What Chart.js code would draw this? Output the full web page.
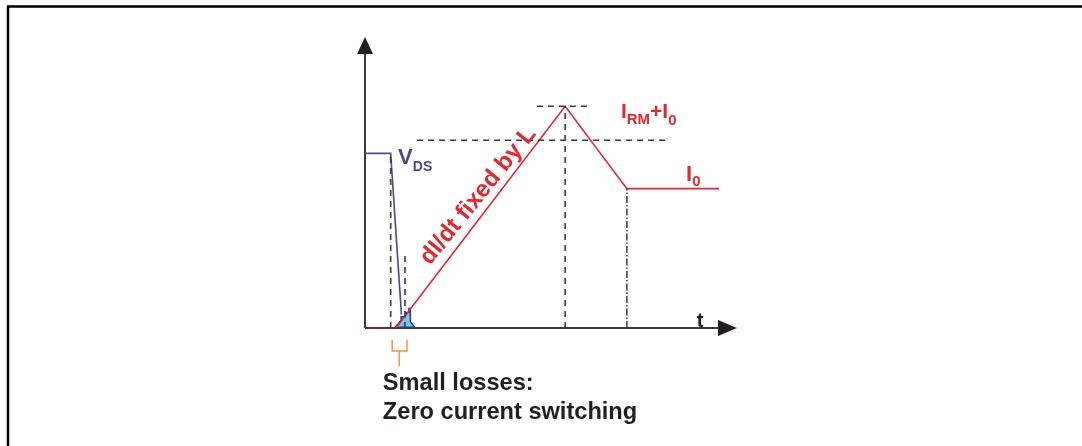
<!DOCTYPE html>
<html>
<head>
<meta charset="utf-8">
<script src="https://cdn.jsdelivr.net/npm/chart.js@4/dist/chart.umd.min.js"></script>
<style>
  html, body { margin: 0; padding: 0; background: #fff; }
  canvas { display: block; }
</style>
</head>
<body>
<canvas id="zcsChart" width="1082" height="446"></canvas>
<script>
// time axis 0..100, level axis 0..100 (arbitrary units)
const vdsTime = [0, 6.9, 9.8];
const vdsLevel = [60, 60, 4.6];

const currentTime = [8.3, 53.8, 70.4, 95.2];
const currentLevel = [0, 76.2, 47.9, 47.9];
const idleTime = [0, 8.3];
const idleLevel = [0, 0];

// small switching-loss area
const lossTime = [8.1, 9.7, 9.7, 10.75, 11.0, 11.8, 11.8, 12.2, 12.2, 13.4, 8.1];
const lossLevel = [0.3, 2.6, 3.9, 3.9, 5.3, 5.3, 6.7, 6.7, 2.1, 0.3, 0.3];

// dashed guides
const guideVTime = [6.9, 10.75, 53.8];
const guideVTop = [60, 26.2, 76.2];
const guideHLevel = [64.5, 76.2];
const guideHFrom = [14, 46.2];
const guideHTo = [81.7, 61];
const dashDotTime = 70.4;
const dashDotTop = 47.9;

// orange bracket under the axis
const bracketTime = [7.3, 7.3, 11.3, 11.3];
const bracketLevel = [-4, -7.9, -7.9, -4];
const stemTime = [9.2, 9.2];
const stemLevel = [-7.9, -13.1];

const captionLines = ["Small losses:", "Zero current switching"];

const toPoints = (xs, ys) => xs.map((x, i) => ({ x: x, y: ys[i] }));

const datasets = [];
const guideStyle = { borderColor: "#3c3c3c", borderWidth: 1.6, borderDash: [6, 5] };

guideVTime.forEach((t, i) => {
  datasets.push(Object.assign({ data: toPoints([t, t], [0, guideVTop[i]]) }, guideStyle));
});
guideHLevel.forEach((lvl, i) => {
  datasets.push(Object.assign({ data: toPoints([guideHFrom[i], guideHTo[i]], [lvl, lvl]) }, guideStyle));
});
datasets.push({
  data: toPoints([dashDotTime, dashDotTime], [0, dashDotTop]),
  borderColor: "#3c3c3c",
  borderWidth: 1.5,
  borderDash: [7, 2, 1.5, 2],
});
datasets.push({
  data: toPoints(idleTime, idleLevel),
  borderColor: "#8a2626",
  borderWidth: 1.6,
});
datasets.push({
  data: toPoints(currentTime, currentLevel),
  borderColor: "#e8262e",
  borderWidth: 1.6,
});
datasets.push({
  data: toPoints(lossTime, lossLevel),
  borderColor: "#2e3c8c",
  backgroundColor: "#74c8f0",
  borderWidth: 1.5,
  fill: "shape",
});
datasets.push({
  data: toPoints(vdsTime, vdsLevel),
  borderColor: "#4a4a8c",
  borderWidth: 1.6,
});
datasets.push({
  data: toPoints(bracketTime, bracketLevel),
  borderColor: "#f0913a",
  borderWidth: 1.4,
});
datasets.push({
  data: toPoints(stemTime, stemLevel),
  borderColor: "#f0913a",
  borderWidth: 1.4,
});

datasets.forEach((ds) => {
  ds.showLine = true;
  ds.pointRadius = 0;
  ds.clip = false;
  ds.tension = 0;
  if (!ds.fill) ds.fill = false;
});

const FONT = "'Liberation Sans', Arial, sans-serif";

function drawParts(ctx, x, y, parts) {
  // parts: [text, size, dy]
  parts.forEach((p) => {
    ctx.font = "bold " + p[1] + "px " + FONT;
    ctx.fillText(p[0], x, y + p[2]);
    x += ctx.measureText(p[0]).width;
  });
}

const axesPlugin = {
  id: "axesPlugin",
  beforeDatasetsDraw(chart) {
    const ctx = chart.ctx;
    const xs = chart.scales.x;
    const ys = chart.scales.y;
    const x0 = xs.getPixelForValue(0);
    const y0 = ys.getPixelForValue(0);
    const xEnd = xs.getPixelForValue(100);
    const yEnd = ys.getPixelForValue(100);
    ctx.save();
    // frame
    ctx.strokeStyle = "#000";
    ctx.lineWidth = 2.5;
    ctx.beginPath();
    ctx.moveTo(8, 446);
    ctx.lineTo(8, 6.5);
    ctx.lineTo(1082, 6.5);
    ctx.stroke();
    // axes
    ctx.strokeStyle = "#3a3a3a";
    ctx.lineWidth = 2;
    ctx.beginPath();
    ctx.moveTo(x0, y0);
    ctx.lineTo(x0, yEnd + 10);
    ctx.moveTo(x0, y0);
    ctx.lineTo(xEnd - 10, y0);
    ctx.stroke();
    ctx.fillStyle = "#231f20";
    ctx.beginPath();
    ctx.moveTo(x0, yEnd);
    ctx.lineTo(x0 - 8, yEnd + 17);
    ctx.lineTo(x0 + 8, yEnd + 17);
    ctx.closePath();
    ctx.fill();
    ctx.beginPath();
    ctx.moveTo(xEnd, y0);
    ctx.lineTo(xEnd - 19, y0 - 8);
    ctx.lineTo(xEnd - 19, y0 + 8);
    ctx.closePath();
    ctx.fill();
    ctx.restore();
  },
  afterDatasetsDraw(chart) {
    const ctx = chart.ctx;
    const xs = chart.scales.x;
    const ys = chart.scales.y;
    const px = (v) => xs.getPixelForValue(v);
    const py = (v) => ys.getPixelForValue(v);
    ctx.save();
    ctx.textAlign = "left";
    ctx.textBaseline = "alphabetic";

    // V_DS
    ctx.fillStyle = "#4a4a8c";
    drawParts(ctx, px(8.9), py(56.2), [["V", 22, 0], ["DS", 14, 7]]);

    // I_RM + I_0
    ctx.fillStyle = "#e8262e";
    drawParts(ctx, px(68.8), py(72.2), [["I", 21, 0], ["RM", 15, 6], ["+I", 21, 0], ["0", 15, 7]]);

    // I_0
    drawParts(ctx, px(86.3), py(50.5), [["I", 22, 0], ["0", 15, 5]]);

    // slope label
    ctx.save();
    ctx.translate(px(17.5), py(21.4));
    ctx.rotate(-51 * Math.PI / 180);
    ctx.font = "bold 24px " + FONT;
    ctx.fillText("dI/dt fixed by L", 0, 0);
    ctx.restore();

    // t
    ctx.fillStyle = "#231f20";
    ctx.font = "bold 20px " + FONT;
    ctx.fillText("t", px(89.2), py(0.4));

    // caption
    ctx.font = "bold 23.6px " + FONT;
    ctx.fillText(captionLines[0], px(4.8), py(-21.4));
    ctx.fillText(captionLines[1], px(4.8), py(-31.4));
    ctx.restore();
  },
};

new Chart(document.getElementById("zcsChart"), {
  type: "scatter",
  data: { datasets: datasets },
  options: {
    responsive: false,
    animation: false,
    devicePixelRatio: 1,
    layout: { padding: { left: 365, right: 345, top: 37, bottom: 118 } },
    scales: {
      x: { type: "linear", min: 0, max: 100, display: false },
      y: { type: "linear", min: 0, max: 100, display: false },
    },
    plugins: {
      legend: { display: false },
      tooltip: { enabled: false },
    },
  },
  plugins: [axesPlugin],
});
</script>
</body>
</html>
